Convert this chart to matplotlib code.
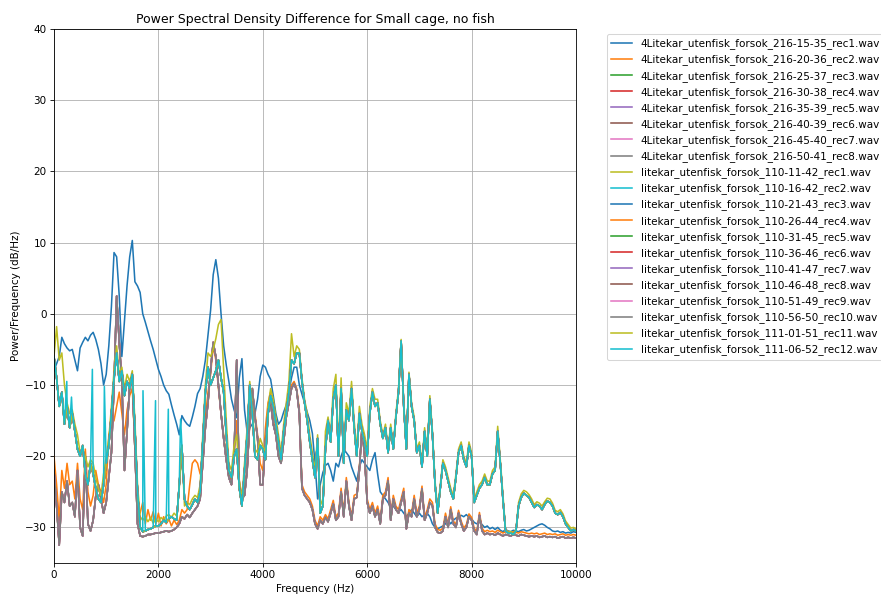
import numpy as np
import matplotlib
matplotlib.use("Agg")
import matplotlib.pyplot as plt

# Frequency grid of the Welch estimates (Hz)
freq = np.arange(0, 10001, 50)

# PSD difference curves (dB/Hz), one row per 1000 Hz
psd_blue = [
    -8.0, -7.0, -6.0, -3.3, -4.2, -4.8, -5.2, -5.0, -6.5, -8.0, -4.8, -4.0, -3.3, -3.8, -3.0, -2.6, -3.6, -5.0, -7.0, -10.0,
    -8.5, -4.5, 1.0, 8.6, 8.0, 2.5, -6.0, -1.0, 4.0, 8.0, 10.3, 4.5, 3.9, 3.0, 0.0, -1.2, -2.5, -3.8, -5.0, -6.4,
    -7.8, -8.8, -10.0, -10.8, -11.3, -12.8, -14.2, -15.5, -17.0, -14.3, -15.0, -15.5, -15.8, -14.5, -13.0, -11.2, -10.5, -8.8, -6.5, -3.0,
    0.5, 5.5, 7.6, 5.0, 0.0, -4.5, -7.2, -9.5, -12.0, -13.5, -14.6, -9.0, -6.3, -13.5, -16.6, -16.0, -15.5, -14.0, -12.0, -8.8,
    -7.2, -7.5, -8.5, -9.2, -11.5, -14.0, -15.5, -15.0, -13.8, -12.8, -11.0, -9.0, -7.5, -7.5, -10.0, -11.3, -12.5, -13.8, -15.0, -16.8,
    -21.0, -26.0, -24.0, -22.3, -21.3, -21.0, -22.0, -23.5, -21.0, -21.5, -20.0, -19.0, -19.5, -20.0, -21.5, -22.5, -23.5, -21.5, -20.5, -21.0,
    -21.5, -22.0, -20.5, -19.5, -22.5, -25.0, -25.5, -26.0, -26.5, -27.2, -27.0, -27.5, -27.8, -27.5, -28.0, -28.5, -28.0, -27.5, -28.0, -28.5,
    -28.0, -28.5, -28.2, -28.0, -28.5, -29.5, -30.0, -30.2, -30.0, -29.8, -29.5, -29.0, -29.5, -29.0, -28.7, -28.5, -28.3, -28.5, -28.2, -28.6,
    -28.8, -29.3, -29.5, -29.2, -29.6, -30.0, -29.8, -30.2, -30.0, -30.3, -30.0, -30.4, -30.6, -30.3, -30.5, -30.6, -30.4, -30.5, -30.6, -30.4,
    -30.3, -30.5, -30.4, -30.2, -30.0, -29.8, -29.6, -29.5, -29.7, -30.0, -30.2, -30.5, -30.6, -30.5, -30.7, -30.6, -30.8, -30.7, -30.8, -30.6,
    -30.7,
]

psd_orange = [
    -20.0, -24.0, -29.0, -22.0, -24.5, -21.0, -24.0, -23.5, -26.0, -21.0, -26.0, -27.5, -19.0, -25.0, -27.0, -25.5, -22.0, -24.0, -25.0, -26.5,
    -24.0, -17.0, -15.5, -15.0, -13.0, -11.0, -14.0, -17.0, -13.5, -11.5, -10.5, -18.5, -27.0, -28.0, -26.5, -29.5, -27.5, -29.0, -27.8, -29.5,
    -28.0, -29.8, -28.5, -29.5, -28.8, -29.8, -29.0, -29.6, -29.0, -27.5, -28.0, -27.5, -24.0, -21.0, -20.5, -21.0, -22.5, -19.5, -14.5, -11.0,
    -8.5, -4.5, -6.5, -10.5, -14.0, -17.0, -20.0, -22.5, -23.5, -19.5, -15.0, -23.5, -25.5, -25.0, -21.5, -15.5, -11.0, -14.0, -17.0, -21.0,
    -22.0, -16.0, -12.5, -11.0, -15.0, -16.5, -19.5, -20.5, -17.5, -14.0, -12.0, -10.0, -9.5, -10.5, -13.5, -24.0, -25.0, -25.5, -26.0, -27.0,
    -29.0, -29.8, -28.5, -29.0, -28.2, -28.8, -27.5, -26.2, -28.5, -28.0, -24.5, -28.0, -23.0, -26.5, -28.5, -25.5, -25.3, -21.5, -16.5, -19.5,
    -26.0, -27.5, -26.5, -28.0, -27.0, -29.0, -25.5, -25.0, -23.0, -28.5, -25.5, -27.0, -27.5, -26.0, -24.5, -29.8, -27.5, -28.0, -25.5, -28.0,
    -27.0, -24.2, -28.5, -27.5, -26.0, -26.5, -29.5, -30.3, -30.4, -30.1, -28.0, -29.6, -27.1, -29.1, -29.6, -27.6, -29.1, -30.1, -29.6, -28.1,
    -28.6, -30.1, -30.6, -27.9, -30.1, -30.6, -30.4, -30.6, -30.5, -30.7, -30.4, -30.6, -30.8, -30.6, -30.7, -30.8, -30.6, -30.7, -30.8, -30.6,
    -30.7, -30.8, -30.9, -30.8, -30.9, -30.8, -31.0, -30.9, -30.8, -31.0, -30.9, -31.0, -30.9, -31.1, -31.0, -30.9, -31.1, -31.0, -31.1, -31.0,
    -31.1,
]

psd_low = [
    -22.0, -27.0, -32.5, -25.0, -26.5, -23.5, -27.0, -26.5, -28.5, -22.0, -30.0, -31.2, -20.0, -29.5, -30.5, -29.0, -25.6, -24.0, -26.0, -28.0,
    -26.5, -23.0, -19.5, -10.0, 2.5, -4.0, -9.5, -22.0, -16.5, -10.0, -9.0, -19.0, -29.5, -31.2, -31.3, -31.2, -31.0, -31.0, -30.9, -30.8,
    -30.8, -30.7, -30.6, -30.5, -30.6, -30.5, -30.3, -30.0, -29.5, -28.5, -28.8, -28.2, -28.6, -28.0, -27.5, -27.0, -26.0, -21.0, -16.0, -12.5,
    -7.8, -4.0, -6.0, -10.0, -14.0, -17.5, -20.5, -23.0, -24.0, -20.0, -6.5, -24.0, -26.0, -25.5, -22.0, -15.0, -10.5, -14.5, -17.5, -24.0,
    -24.0, -18.0, -14.0, -12.5, -15.5, -17.0, -20.0, -21.0, -18.0, -14.5, -12.5, -10.5, -9.8, -10.8, -14.0, -24.5, -25.5, -26.0, -26.5, -27.5,
    -29.5, -30.2, -29.0, -29.5, -28.6, -29.2, -28.0, -26.7, -29.0, -28.5, -25.0, -28.5, -23.5, -27.0, -29.0, -26.0, -25.8, -22.0, -16.0, -20.0,
    -26.5, -28.0, -27.0, -28.5, -27.5, -29.5, -26.0, -25.5, -23.5, -29.0, -26.0, -27.5, -28.0, -26.5, -25.0, -30.2, -28.0, -28.5, -26.0, -28.5,
    -27.5, -24.6, -29.0, -28.0, -26.5, -27.0, -30.0, -30.7, -30.8, -30.5, -28.5, -30.0, -27.5, -29.5, -30.0, -28.0, -29.5, -30.5, -30.0, -28.5,
    -29.0, -30.5, -31.0, -28.3, -30.5, -31.0, -30.8, -31.0, -30.9, -31.1, -30.8, -31.0, -31.2, -31.0, -31.1, -31.2, -31.0, -31.1, -31.2, -31.0,
    -31.1, -31.2, -31.3, -31.2, -31.3, -31.2, -31.4, -31.3, -31.2, -31.4, -31.3, -31.4, -31.3, -31.5, -31.4, -31.3, -31.5, -31.4, -31.5, -31.4,
    -31.5,
]

psd_olive = [
    -6.0, -1.8, -6.5, -5.5, -10.0, -12.5, -14.0, -13.5, -15.5, -17.0, -19.5, -19.0, -20.0, -21.5, -20.5, -21.0, -23.0, -24.5, -25.5, -22.5,
    -20.0, -17.5, -13.0, -8.0, -4.5, -8.5, -7.5, -10.5, -8.5, -9.5, -8.0, -15.0, -24.0, -28.5, -29.0, -28.5, -29.2, -28.6, -29.4, -28.8,
    -29.2, -28.6, -29.0, -28.4, -28.2, -28.6, -28.0, -28.4, -24.5, -19.0, -27.0, -26.5, -26.8, -26.0, -25.5, -25.8, -24.0, -17.0, -10.0, -5.5,
    -6.0, -5.0, -3.5, -1.5, -0.8, -8.0, -15.0, -21.0, -22.0, -18.5, -17.0, -23.5, -26.0, -21.0, -16.0, -9.5, -13.0, -19.0, -19.5, -17.5,
    -18.5, -19.5, -13.0, -10.5, -12.0, -14.5, -17.0, -19.5, -15.5, -12.5, -9.5, -2.8, -6.0, -4.5, -5.0, -9.0, -12.0, -14.0, -17.0, -19.5,
    -22.0, -17.0, -27.0, -26.0, -16.5, -14.5, -17.0, -10.5, -8.5, -19.0, -9.0, -20.0, -12.5, -14.0, -9.5, -15.0, -19.0, -13.0, -15.5, -17.0,
    -19.0, -13.0, -10.5, -12.0, -12.0, -15.0, -17.0, -15.5, -19.0, -15.5, -18.5, -14.0, -10.5, -3.6, -12.5, -18.5, -8.2, -12.5, -14.5, -19.0,
    -18.0, -21.0, -16.0, -19.5, -11.5, -16.5, -23.5, -27.5, -24.0, -20.5, -21.5, -23.0, -24.5, -25.5, -22.5, -19.0, -18.0, -20.0, -21.0, -18.0,
    -19.5, -26.0, -25.0, -24.0, -23.5, -22.5, -23.5, -23.5, -22.0, -21.5, -15.8, -20.5, -25.5, -30.3, -30.6, -30.6, -30.8, -30.3, -26.5, -25.3,
    -24.8, -25.0, -25.4, -26.0, -26.8, -26.4, -26.6, -27.0, -26.4, -25.9, -26.0, -26.6, -27.6, -27.8, -27.5, -28.1, -29.1, -29.6, -30.1, -30.0,
    -30.2,
]

psd_high = [
    -6.0, -9.0, -13.0, -11.0, -15.5, -13.0, -16.0, -14.0, -16.5, -19.0, -20.0, -18.5, -22.5, -24.0, -21.0, -22.5, -24.5, -26.0, -26.5, -24.0,
    -21.0, -18.5, -14.0, -9.0, -5.5, -9.5, -8.0, -11.5, -9.5, -10.5, -8.5, -16.0, -25.0, -30.0, -30.6, -30.5, -30.3, -30.2, -30.0, -29.8,
    -29.8, -29.5, -29.0, -29.3, -28.8, -28.5, -28.8, -29.0, -24.0, -18.5, -26.0, -27.0, -27.5, -26.8, -26.0, -26.5, -25.0, -18.0, -11.0, -7.5,
    -10.0, -9.0, -8.0, -6.5, -9.0, -11.0, -17.0, -22.0, -23.0, -20.0, -19.0, -24.5, -27.0, -22.0, -17.0, -10.0, -14.0, -20.0, -20.5, -18.5,
    -19.0, -20.5, -14.0, -11.5, -13.0, -15.5, -18.0, -20.5, -16.5, -14.0, -11.0, -6.5, -7.0, -5.5, -5.5, -9.5, -12.5, -15.0, -18.0, -20.5,
    -23.0, -17.5, -28.0, -27.0, -19.0, -15.0, -18.0, -12.0, -10.0, -20.0, -10.5, -21.0, -13.5, -15.0, -10.5, -16.0, -20.0, -14.0, -16.5, -18.0,
    -20.0, -14.0, -11.0, -13.0, -12.5, -15.5, -17.5, -16.0, -19.5, -16.0, -19.0, -14.5, -11.0, -3.8, -13.0, -19.0, -8.5, -13.0, -15.0, -19.5,
    -18.5, -21.5, -16.5, -20.0, -12.0, -17.0, -24.0, -28.0, -24.5, -21.0, -22.0, -23.5, -25.0, -26.0, -23.0, -19.5, -18.5, -20.5, -21.5, -18.5,
    -20.0, -26.5, -25.5, -24.5, -24.0, -23.0, -24.0, -24.0, -22.5, -22.0, -16.5, -21.0, -26.0, -30.5, -30.8, -30.8, -31.0, -30.5, -27.0, -25.8,
    -25.2, -25.5, -25.8, -26.5, -27.2, -26.8, -27.0, -27.5, -26.8, -26.3, -26.5, -27.0, -28.0, -28.2, -27.9, -28.5, -29.5, -30.0, -30.5, -30.3,
    -30.5,
]

# Narrow tonal peaks in the last recording
spike_freq = [245, 335, 735, 965, 1705, 1945, 2190, 2425]
spike_db = [-9.5, -11.7, -7.8, -10.2, -10.8, -12.2, -13.4, -14.8]

file_names = [
    "4Litekar_utenfisk_forsok_216-15-35_rec1.wav",
    "4Litekar_utenfisk_forsok_216-20-36_rec2.wav",
    "4Litekar_utenfisk_forsok_216-25-37_rec3.wav",
    "4Litekar_utenfisk_forsok_216-30-38_rec4.wav",
    "4Litekar_utenfisk_forsok_216-35-39_rec5.wav",
    "4Litekar_utenfisk_forsok_216-40-39_rec6.wav",
    "4Litekar_utenfisk_forsok_216-45-40_rec7.wav",
    "4Litekar_utenfisk_forsok_216-50-41_rec8.wav",
    "litekar_utenfisk_forsok_110-11-42_rec1.wav",
    "litekar_utenfisk_forsok_110-16-42_rec2.wav",
    "litekar_utenfisk_forsok_110-21-43_rec3.wav",
    "litekar_utenfisk_forsok_110-26-44_rec4.wav",
    "litekar_utenfisk_forsok_110-31-45_rec5.wav",
    "litekar_utenfisk_forsok_110-36-46_rec6.wav",
    "litekar_utenfisk_forsok_110-41-47_rec7.wav",
    "litekar_utenfisk_forsok_110-46-48_rec8.wav",
    "litekar_utenfisk_forsok_110-51-49_rec9.wav",
    "litekar_utenfisk_forsok_110-56-50_rec10.wav",
    "litekar_utenfisk_forsok_111-01-51_rec11.wav",
    "litekar_utenfisk_forsok_111-06-52_rec12.wav",
]

for arr in (psd_blue, psd_orange, psd_low, psd_olive, psd_high):
    assert len(arr) == len(freq), len(arr)

# last recording = high curve with the tonal peaks added
f_last = np.concatenate([freq, spike_freq])
v_last = np.concatenate([psd_high, spike_db])
order = np.argsort(f_last, kind="stable")

curves = [(freq, psd_blue), (freq, psd_orange)]
curves += [(freq, psd_low)] * 6
curves += [(freq, psd_olive)]
curves += [(freq, psd_high)] * 10
curves += [(f_last[order], v_last[order])]

DPI = 75
fig = plt.figure(figsize=(881 / DPI, 594 / DPI), dpi=DPI)
ax = fig.add_axes([54 / 881, 31 / 594, 522 / 881, 534 / 594])

for (x, y), name in zip(curves, file_names):
    ax.plot(x, y, label=name)

ax.set_xlim(0, 10000)
ax.set_ylim(-35, 40)
ax.set_title("Power Spectral Density Difference for Small cage, no fish")
ax.set_xlabel("Frequency (Hz)")
ax.set_ylabel("Power/Frequency (dB/Hz)")
ax.grid(True)
ax.legend(bbox_to_anchor=(1.05, 1), loc="upper left")

fig.savefig("out.png", dpi=DPI)
